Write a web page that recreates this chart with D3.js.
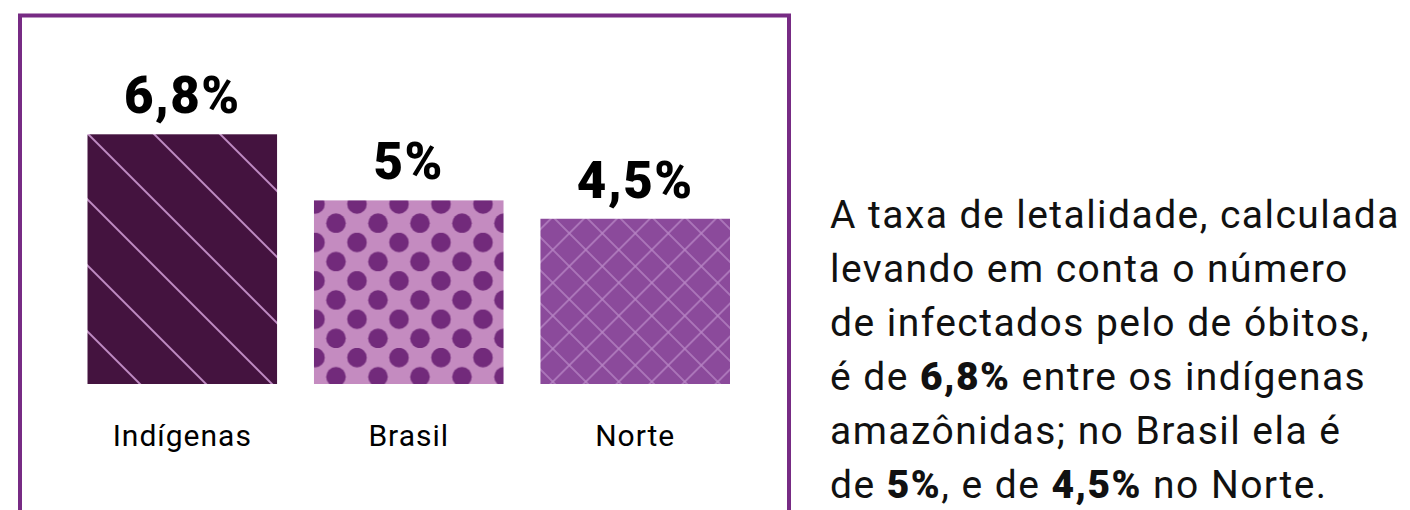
<!DOCTYPE html>
<html>
<head>
<meta charset="utf-8">
<script src="https://cdn.jsdelivr.net/npm/d3@7"></script>
<style>
  body { margin: 0; background: #fff; }
  text { font-family: Roboto, "Open Sans", sans-serif; }
</style>
</head>
<body>
<div id="chart"></div>
<script>
// chart data
let categories  = ['Indígenas', 'Brasil', 'Norte']
let values      = [6.8, 5, 4.5]
let valueLabels = ['6,8%', '5%', '4,5%']
let fills       = ['url(#hatch)', 'url(#dots)', 'url(#grid)']

// side note, **bold** parts marked
let noteLines = [
  'A taxa de letalidade, calculada',
  'levando em conta o número',
  'de infectados pelo de óbitos,',
  'é de **6,8%** entre os indígenas',
  'amazônidas; no Brasil ela é',
  'de **5%**, e de **4,5%** no Norte.'
]

let width = 1410, height = 510

let svg = d3.select('#chart')
            .append('svg')
              .attr('width', width)
              .attr('height', height)

let defs = svg.append('defs')

// diagonal stripes (Indígenas)
let hatch = defs.append('pattern')
    .attr('id', 'hatch')
    .attr('patternUnits', 'userSpaceOnUse')
    .attr('width', 20).attr('height', 46.67)
    .attr('patternTransform', 'translate(88,134) rotate(45)')
hatch.append('rect').attr('width', 20).attr('height', 46.67).attr('fill', '#44133f')
hatch.append('rect').attr('y', 0).attr('width', 20).attr('height', 1).attr('fill', '#c08cc4')
hatch.append('rect').attr('y', 45.67).attr('width', 20).attr('height', 1).attr('fill', '#c08cc4')

// polka dots (Brasil)
let dots = defs.append('pattern')
    .attr('id', 'dots')
    .attr('patternUnits', 'userSpaceOnUse')
    .attr('x', 304.5).attr('y', 194.4)
    .attr('width', 42).attr('height', 38.4)
dots.append('rect').attr('width', 42).attr('height', 38.4).attr('fill', '#c48bc0')
dots.append('circle').attr('cx', 10.5).attr('cy', 9.6).attr('r', 9.8).attr('fill', '#722a7b')
dots.append('circle').attr('cx', 31.5).attr('cy', 28.8).attr('r', 9.8).attr('fill', '#722a7b')

// diamond grid (Norte)
let s = 23.33
let grid = defs.append('pattern')
    .attr('id', 'grid')
    .attr('patternUnits', 'userSpaceOnUse')
    .attr('width', s).attr('height', s)
    .attr('patternTransform', 'translate(569.3,233.3) rotate(45)')
grid.append('rect').attr('width', s).attr('height', s).attr('fill', '#8b4a9b')
grid.append('rect').attr('width', s).attr('height', 0.7).attr('fill', '#b886c5')
grid.append('rect').attr('y', s - 0.7).attr('width', s).attr('height', 0.7).attr('fill', '#b886c5')
grid.append('rect').attr('width', 0.7).attr('height', s).attr('fill', '#b886c5')
grid.append('rect').attr('x', s - 0.7).attr('width', 0.7).attr('height', s).attr('fill', '#b886c5')

// frame
svg.append('rect')
    .attr('x', 20).attr('y', 15.5)
    .attr('width', 769).attr('height', 600)
    .attr('fill', 'none')
    .attr('stroke', '#772b84')
    .attr('stroke-width', 4)

let x = d3.scaleBand()
    .domain(categories)
    .range([87.5, 730])
    .paddingInner(0.163)
    .paddingOuter(0)

let y = d3.scaleLinear()
    .domain([0, 6.8])
    .range([384, 134.3])

svg.selectAll('.bar')
    .data(values)
    .enter()
    .append('rect')
    .attr('class', 'bar')
    .attr('x', (d, i) => x(categories[i]))
    .attr('y', d => y(d))
    .attr('width', x.bandwidth())
    .attr('height', d => y(0) - y(d))
    .style('fill', (d, i) => fills[i])

svg.selectAll('.val')
    .data(values)
    .enter()
    .append('text')
    .attr('class', 'val')
    .attr('x', (d, i) => x(categories[i]) + x.bandwidth() / 2)
    .attr('y', d => y(d) - 21)
    .attr('text-anchor', 'middle')
    .style('font-size', '51px')
    .style('font-weight', 900)
    .style('letter-spacing', '1.5px')
    .text((d, i) => valueLabels[i])

svg.selectAll('.cat')
    .data(categories)
    .enter()
    .append('text')
    .attr('class', 'cat')
    .attr('x', d => x(d) + x.bandwidth() / 2)
    .attr('y', 446)
    .attr('text-anchor', 'middle')
    .style('font-size', '30px')
    .style('letter-spacing', '1px')
    .text(d => d)

let note = svg.append('text')
    .attr('x', 830)
    .style('font-size', '39px')
    .style('fill', '#111')

noteLines.forEach((line, i) => {
  let parts = line.split('**')
  parts.forEach((p, j) => {
    let t = note.append('tspan').text(p)
    if (j === 0) t.attr('x', 830).attr('y', 228 + i * 54)
    if (j % 2 === 1) t.style('font-weight', 900)
  })
})

// stretch the note's spacing so the first line reaches the right edge
let firstW = note.select('tspan').node().getComputedTextLength()
let first = noteLines[0]
note.style('letter-spacing', ((570 - firstW) / first.length) + 'px')
</script>
</body>
</html>
